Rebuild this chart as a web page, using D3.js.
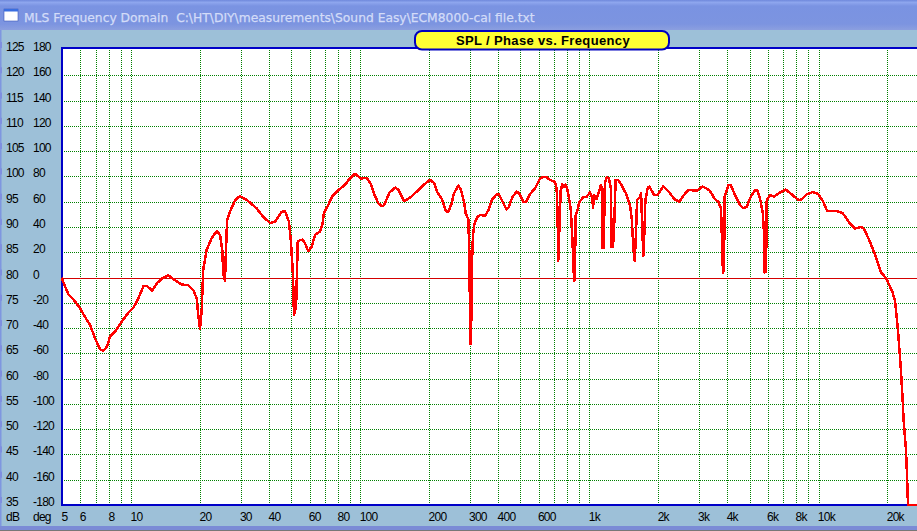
<!DOCTYPE html>
<html><head><meta charset="utf-8">
<script src="https://cdn.jsdelivr.net/npm/d3@7/dist/d3.min.js"></script>
<style>html,body{margin:0;padding:0;background:#9dc0d8;overflow:hidden}svg{display:block}
text{font-family:"Liberation Sans",Arial,sans-serif;fill:#000}</style></head><body>
<script>
const windowTitle = "MLS Frequency Domain  C:\\HT\\DIY\\measurements\\Sound Easy\\ECM8000-cal file.txt";
const chartTitle = "SPL / Phase vs. Frequency";
const dbTicks = [125,120,115,110,105,100,95,90,85,80,75,70,65,60,55,50,45,40,35];
const degTicks = [180,160,140,120,100,80,60,40,20,0,-20,-40,-60,-80,-100,-120,-140,-160,-180];
const freqGrid = [6,7,8,9,10,20,30,40,50,60,70,80,90,100,200,300,400,500,600,700,800,900,1000,2000,3000,4000,5000,6000,7000,8000,9000,10000,20000];
const freqLabelValues = [5,6,8,10,20,30,40,60,80,100,200,300,400,600,1000,2000,3000,4000,6000,8000,10000,20000];
const freqLabelTexts = ["5","6","8","10","20","30","40","60","80","100","200","300","400","600","1k","2k","3k","4k","6k","8k","10k","20k"];
const freq = [4.96,5.14,5.31,5.58,5.98,6.28,6.61,6.94,7.30,7.55,7.82,8.08,8.50,9.08,9.70,10.2,10.7,11.3,11.7,12.35,12.9,13.6,14.5,15.5,16.6,17.7,18.65,19.3,19.6,19.95,20.3,20.6,21.3,22.4,23.6,24.4,24.95,25.2,25.64,25.9,26.2,26.96,28.4,29.8,32.0,35.2,37.7,40.3,42.4,45.4,46.9,48.8,49.8,50.8,51.3,52.4,53.3,54.5,56.0,57.3,59.2,61.3,63.4,66.6,68.4,69.3,72.3,75.3,80.8,85.6,90,94.7,100.3,106.5,110.9,114.6,119.8,124,127,134,142,147,155.1,164.8,176.2,188.3,201.4,210,217,227,236,242,250.5,256,267.8,275,283.4,288.3,296,299,302,304,307,310,314,323.6,335,350,362,374.6,394,403,418,434,443,461,481.7,494.5,515,529,552,578.5,608.6,629,651,673,707,719,726,731,736,743,748,760,773.6,787,800,814,828,836.6,845,850.5,859,865,871.6,886,903,940,973,1006,1030,1037,1047,1076,1093,1123,1138,1142,1154,1168,1188,1216,1241,1250,1266,1279,1301,1336,1383,1444,1504,1530,1555,1577,1598,1614,1664,1681,1703,1720,1738,1755,1798,1827,1915,1978,2100,2210,2347,2467,2614,2702,2950,3121,3336,3532,3650,3752,3790,3828,3867,3894,4040,4138,4321,4544,4696,4860,5025,5283,5406,5596,5710,5767,5825,5900,5945,6148,6400,6792,7192,7610,8070,8350,8900,9450,9980,10480,10900,11950,12770,13650,14450,15420,15850,16660,17800,18710,19770,20990,21570,22230,22900,23300,23530,23770,24090,24330,24580,26920];
const spl = [80,78.2,76.7,75.7,73.9,72.2,70.6,68.0,65.8,65.5,66.3,68.3,69.3,71.3,73.0,74.0,75.7,78.3,78.3,77.4,78.8,79.8,80.4,79.5,78.6,78.5,77.5,75.9,72.6,69.9,73.6,81.5,85.4,87.7,89.2,88.4,85.4,80.8,79.3,85.4,91.4,93.0,95.3,96.1,95.3,93.7,92.0,90.8,91.0,93.0,93.1,91.0,86.8,80.5,72.6,74.2,87.1,87.4,87.5,86.8,85.2,86.1,88.4,89.1,90.7,92.7,94.3,96.0,97.4,98.3,99.6,100.5,99.6,99.7,98.6,96.6,94.7,94.1,94.3,96.8,97.8,97.3,95.1,95.8,97.0,98.3,99.3,98.7,96.8,95.5,93.1,93.0,94.7,96.6,98.2,97.3,95.0,92.7,91.5,85.1,66.8,66.8,82.5,88.1,90.4,92.0,92.4,92.2,93.3,95.3,96.5,96.4,95.0,93.5,93.8,95.9,97.0,96.6,94.9,95.0,96.6,97.6,99.6,99.9,99.8,99.3,98.9,97.6,92.4,83.3,87.7,91.7,97.0,98.4,98.0,98.4,97.6,95.7,93.7,90.4,86.4,82.1,79.3,83.1,92.4,93.3,94.9,95.9,96.0,96.8,95.7,93.7,96.3,95.5,96.6,98.3,97.6,85.8,85.8,98.6,99.8,99.6,97.6,86.0,86.1,88.4,99.3,99.3,98.2,96.6,94.3,91.7,85.8,83.3,89.1,95.3,96.0,96.6,89.1,84.3,89.1,95.3,97.8,98.0,96.3,96.3,98.0,97.1,95.5,95.0,96.6,97.3,97.2,98.0,97.3,95.5,95.0,93.7,87.4,81.0,81.5,96.0,98.3,98.3,96.3,94.3,93.7,94.0,95.7,97.3,97.3,95.0,92.7,89.7,81.0,81.1,95.3,96.3,96.0,96.8,97.4,96.5,95.5,95.3,96.5,96.9,96.5,95.0,93.2,93.2,92.7,90.8,89.7,90.0,89.5,87.4,84.1,81.1,79.8,77.2,75.5,69.6,61.7,55.8,51.8,49.2,45.9,41.3,35,35];
const referenceDb = 80;

const W = 917, H = 531;
const x = d3.scaleLog().domain([10,10000]).range([131.3,818.5]);
const yDb = d3.scaleLinear().domain([35,125]).range([505,50]);
const yDeg = d3.scaleLinear().domain([-180,180]).range([505,50]);
const plotL = 61.5, plotR = W, plotT = 48, plotB = 505;

const svg = d3.select("body").append("svg").attr("width",W).attr("height",H).attr("viewBox",[0,0,W,H]);
const defs = svg.append("defs");
const g = defs.append("linearGradient").attr("id","tb").attr("x1",0).attr("y1",0).attr("x2",0).attr("y2",1);
[[0,"#6f88dc"],[0.08,"#8ea6ee"],[0.2,"#7a93e2"],[0.8,"#7c94e0"],[1,"#8b9fdf"]].forEach(s=>g.append("stop").attr("offset",s[0]).attr("stop-color",s[1]));

svg.append("rect").attr("width",W).attr("height",H).attr("fill","#9dc0d8");
svg.append("rect").attr("width",W).attr("height",30).attr("fill","url(#tb)");
svg.append("rect").attr("x",0).attr("y",30).attr("width",1.5).attr("height",H-30).attr("fill","#7f96e0");
svg.append("rect").attr("x",0).attr("y",526).attr("width",W).attr("height",4).attr("fill","#7b8bd6");
svg.append("rect").attr("x",0).attr("y",530).attr("width",W).attr("height",1).attr("fill","#777");

// window icon and title
svg.append("rect").attr("x",4).attr("y",9).attr("width",14).attr("height",12).attr("fill","#fff").attr("stroke","#3a56b8").attr("stroke-width",.6);
svg.append("rect").attr("x",4).attr("y",9).attr("width",14).attr("height",2.5).attr("fill","#3a6ee0");
svg.append("text").attr("x",24).attr("y",22).attr("xml:space","preserve").style("white-space","pre")
  .style("font-family","'DejaVu Sans'").style("font-size","12.3px").style("fill","#d3dcf8").style("stroke","#d3dcf8").style("stroke-width",".25px").text(windowTitle);

// plot
svg.append("rect").attr("x",plotL).attr("y",plotT).attr("width",plotR-plotL).attr("height",plotB-plotT).attr("fill","#fff");

const grid = svg.append("g").attr("stroke","#008000").attr("stroke-width",1).attr("stroke-dasharray","1 1");
grid.selectAll(".v").data(freqGrid).join("line").attr("x1",d=>Math.round(x(d))+.5).attr("x2",d=>Math.round(x(d))+.5).attr("y1",plotT).attr("y2",plotB);
grid.selectAll(".h").data(dbTicks.slice(1,-1)).join("line").attr("x1",Math.ceil(plotL)).attr("x2",plotR).attr("y1",d=>Math.round(yDb(d))+.5).attr("y2",d=>Math.round(yDb(d))+.5);

svg.append("line").attr("x1",plotL).attr("x2",plotR).attr("y1",Math.round(yDb(referenceDb))+.5).attr("y2",Math.round(yDb(referenceDb))+.5)
  .attr("stroke","#d40000").attr("stroke-width",1).attr("shape-rendering","crispEdges");

// frame
svg.append("path").attr("d",`M${plotR},${plotT} H${plotL} V${plotB} H${plotR}`).attr("fill","none").attr("stroke","#0000c8").attr("stroke-width",2).attr("shape-rendering","crispEdges");

// curve
const line = d3.line().x((d,i)=>x(freq[i])).y(d=>yDb(d));
svg.append("path").datum(spl).attr("d",line).attr("fill","none").attr("stroke","#ff0000").attr("stroke-width",2.5).attr("shape-rendering","crispEdges").attr("stroke-linejoin","round");

// left tick marks and labels
svg.append("g").selectAll("rect").data(dbTicks).join("rect").attr("x",0).attr("width",2).attr("y",d=>yDb(d)-8).attr("height",6).attr("fill","#7f8fe0");
const lab = {"font-size":"12px","letter-spacing":"-0.75px"};
function st(s){ Object.entries(lab).forEach(([k,v])=>s.style(k,v)); return s; }
st(svg.append("g").selectAll("text").data(dbTicks).join("text").attr("x",6).attr("y",d=>yDb(d)+1).text(d=>d));
st(svg.append("g").selectAll("text").data(degTicks).join("text").attr("x",33).attr("y",d=>yDeg(d)+1).text(d=>d));
st(svg.append("text").attr("x",6).attr("y",521).text("dB"));
st(svg.append("text").attr("x",33).attr("y",521).text("deg"));
st(svg.append("g").selectAll("text").data(freqLabelValues).join("text").attr("x",(d,i)=>i==0?61.5:x(d)-0.7).attr("y",521).text((d,i)=>freqLabelTexts[i]));

// title pill
svg.append("rect").attr("x",415).attr("y",31).attr("width",254).attr("height",18.5).attr("rx",7).attr("fill","#ffff33").attr("stroke","#0000c0").attr("stroke-width",2);
svg.append("text").attr("x",543).attr("y",45).attr("text-anchor","middle").style("font-size","13px").style("font-weight","bold").style("letter-spacing","0.35px").text(chartTitle);
</script></body></html>
